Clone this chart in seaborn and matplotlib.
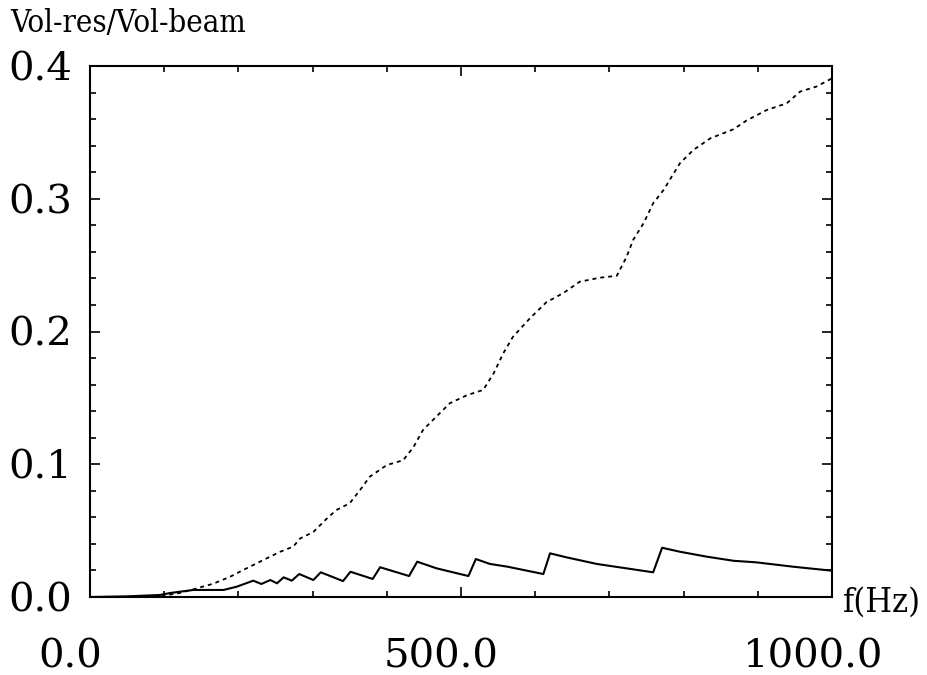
import matplotlib
matplotlib.use("Agg")
import matplotlib.pyplot as plt
import seaborn as sns
import numpy as np
import pandas as pd
from matplotlib.ticker import MultipleLocator, FixedLocator
from matplotlib.transforms import ScaledTranslation

# ---- data ----
freq_dotted = [0, 50, 80, 99, 121, 144, 166, 189, 211, 234, 256, 274, 283, 301, 319,
               332, 350, 364, 377, 400, 422, 436, 449, 467, 485, 508, 530, 544, 557,
               570, 593, 615, 638, 660, 687, 710, 723, 732, 746, 759, 773, 795, 813,
               836, 867, 885, 912, 939, 957, 979, 1000]
vol_dotted = [0.0, 0.0, 0.0005, 0.001, 0.003, 0.0065, 0.010, 0.0153, 0.0216, 0.028,
              0.034, 0.038, 0.044, 0.049, 0.059, 0.0655, 0.0706, 0.0806, 0.0906,
              0.0994, 0.103, 0.113, 0.126, 0.136, 0.146, 0.152, 0.156, 0.1685, 0.1836,
              0.196, 0.21, 0.222, 0.229, 0.2375, 0.2405, 0.242, 0.256, 0.269, 0.2815,
              0.2966, 0.3066, 0.3267, 0.3367, 0.3455, 0.3523, 0.359, 0.3668, 0.3719,
              0.3807, 0.3845, 0.3907]

freq_solid = [0, 50, 94, 108, 139, 180, 198, 220, 231, 243, 252, 261, 272, 282, 301,
              311, 341, 351, 381, 391, 430, 441, 467, 510, 520, 539, 562, 611, 620,
              642, 683, 759, 771, 795, 831, 867, 898, 948, 1000]
vol_solid = [0.0, 0.0005, 0.0015, 0.003, 0.0053, 0.0053, 0.0078, 0.0123, 0.0098,
             0.0128, 0.0103, 0.0148, 0.0123, 0.0173, 0.0128, 0.0186, 0.012, 0.019,
             0.0136, 0.0224, 0.0158, 0.0266, 0.0216, 0.0158, 0.0286, 0.0249, 0.0229,
             0.0173, 0.0329, 0.0299, 0.0249, 0.0186, 0.0371, 0.0341, 0.0304, 0.0273,
             0.0261, 0.0228, 0.0198]

x_major = [0, 500, 1000]
x_labels = ["0.0", "500.0", "1000.0"]
y_major = [0.0, 0.1, 0.2, 0.3, 0.4]
y_labels = ["0.0", "0.1", "0.2", "0.3", "0.4"]
y_title = "Vol-res/Vol-beam"
x_title = "f(Hz)"

# ---- style ----
sns.set_style("ticks")
plt.rcParams["font.family"] = ["DejaVu Serif", "DejaVu Sans"]
plt.rcParams["text.color"] = "black"
plt.rcParams["xtick.color"] = "black"
plt.rcParams["ytick.color"] = "black"
plt.rcParams["xtick.labelcolor"] = "black"
plt.rcParams["ytick.labelcolor"] = "black"

fig = plt.figure(figsize=(9.28, 6.75), dpi=100)
ax = fig.add_axes([90 / 928, 1 - 597 / 675, 742 / 928, 531 / 675])

df_d = pd.DataFrame({"f": freq_dotted, "v": vol_dotted})
df_s = pd.DataFrame({"f": freq_solid, "v": vol_solid})

sns.lineplot(data=df_d, x="f", y="v", ax=ax, color="black", lw=1.3,
             linestyle=(0, (2.2, 2.2)), estimator=None, sort=False)
sns.lineplot(data=df_s, x="f", y="v", ax=ax, color="black", lw=1.5,
             estimator=None, sort=False)

ax.set_xlim(0, 1000)
ax.set_ylim(0, 0.4)
ax.set_xlabel("")
ax.set_ylabel("")

ax.xaxis.set_major_locator(FixedLocator(x_major))
ax.set_xticklabels(x_labels)
ax.xaxis.set_minor_locator(MultipleLocator(100))
ax.yaxis.set_major_locator(FixedLocator(y_major))
ax.set_yticklabels(y_labels)
ax.yaxis.set_minor_locator(MultipleLocator(0.02))

ax.tick_params(which="both", direction="in", top=True, right=True, color="black",
               width=1.2, labelcolor="black")
ax.tick_params(which="major", length=7.5)
ax.tick_params(which="minor", length=4)
ax.tick_params(axis="x", which="major", labelsize=29, pad=30)
ax.tick_params(axis="y", which="major", labelsize=29, pad=13)

for sp in ax.spines.values():
    sp.set_linewidth(1.5)
    sp.set_color("black")

off = ScaledTranslation(-20 / 100, 0, fig.dpi_scale_trans)
for lab in ax.get_xticklabels():
    lab.set_transform(lab.get_transform() + off)

fig.text(10 / 928, 1 - 32 / 675, y_title, fontsize=22.3, va="baseline", ha="left",
         color="black", family=["DejaVu Serif", "DejaVu Sans"], fontstretch="condensed")
fig.text(843 / 928, 1 - 603 / 675, x_title, fontsize=24.5, va="center", ha="left",
         color="black", family=["DejaVu Serif", "DejaVu Sans"], fontstretch="condensed")

fig.savefig("out.png", dpi=100, facecolor="white")
